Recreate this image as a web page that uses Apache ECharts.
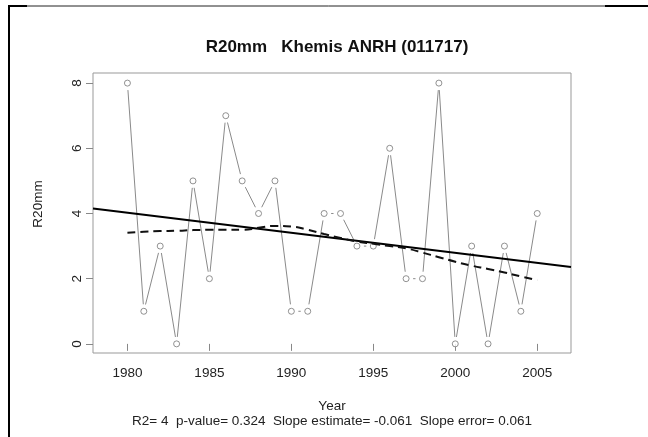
<!DOCTYPE html>
<html>
<head>
<meta charset="utf-8">
<script src="https://cdn.jsdelivr.net/npm/echarts@6/dist/echarts.min.js"></script>
<style>
html,body{margin:0;padding:0;background:#fff;}
#chart{width:648px;height:437px;}
</style>
</head>
<body>
<div id="chart"></div>
<script>
const years = [1980,1981,1982,1983,1984,1985,1986,1987,1988,1989,1990,1991,1992,1993,1994,1995,1996,1997,1998,1999,2000,2001,2002,2003,2004,2005];
const r20mm = [8,1,3,0,5,2,7,5,4,5,1,1,4,4,3,3,6,2,2,8,0,3,0,3,1,4];
const smoothValues = [3.41,3.44,3.46,3.47,3.49,3.5,3.5,3.5,3.56,3.62,3.6,3.5,3.37,3.25,3.14,3.07,3.0,2.93,2.8,2.66,2.52,2.4,2.3,2.19,2.07,1.95];
const trendX = [1977.9, 2007.06];
const trendY = [4.15, 2.36];
const xTicks = [1980,1985,1990,1995,2000,2005];
const yTicks = [0,2,4,6,8];
const titleText = 'R20mm   Khemis ANRH (011717)';
const xName = 'Year';
const yName = 'R20mm';
const statsText = 'R2= 4  p-value= 0.324  Slope estimate= -0.061  Slope error= 0.061';

const chart = echarts.init(document.getElementById('chart'), null, {renderer:'canvas'});
const FONT = 'Liberation Sans, Arial, sans-serif';
const segData = years.slice(0,-1).map((y,i)=>[years[i], r20mm[i], years[i+1], r20mm[i+1]]);
const GAP = 7;

chart.setOption({
  animation:false,
  backgroundColor:'#fff',
  title:{
    text:titleText, left:332, top:34, textAlign:'center',
    textStyle:{fontFamily:FONT, fontSize:17, fontWeight:'bold', color:'#111'}
  },
  grid:{left:93, top:73, right:77, bottom:84, show:true, borderColor:'#999', borderWidth:1, backgroundColor:'transparent'},
  xAxis:{
    type:'value', min:trendX[0], max:trendX[1],
    name:xName, nameLocation:'middle', nameGap:46,
    nameTextStyle:{fontFamily:FONT, fontSize:13.5, color:'#222'},
    axisLine:{show:false},
    splitLine:{show:false},
    axisTick:{show:true, inside:false, length:7, customValues:xTicks, lineStyle:{color:'#888'}},
    axisLabel:{customValues:xTicks, formatter:function(v){return String(Math.round(v));}, fontFamily:FONT, fontSize:13.5, color:'#222', margin:13}
  },
  yAxis:{
    type:'value', min:-0.28, max:8.31,
    axisLine:{show:false},
    splitLine:{show:false},
    axisTick:{show:true, inside:false, length:7, customValues:yTicks, lineStyle:{color:'#888'}},
    axisLabel:{customValues:yTicks, formatter:function(v){return String(Math.round(v));}, rotate:90, fontFamily:FONT, fontSize:13.5, color:'#222', margin:9}
  },
  graphic:[
    {type:'line', shape:{x1:9, y1:5, x2:9, y2:437}, style:{stroke:'#000', lineWidth:2}},
    {type:'line', shape:{x1:9, y1:6, x2:648, y2:6}, style:{stroke:'#222', lineWidth:1}},
    {type:'line', shape:{x1:9, y1:6, x2:27, y2:6}, style:{stroke:'#000', lineWidth:2}},
    {type:'line', shape:{x1:605, y1:6, x2:648, y2:6}, style:{stroke:'#000', lineWidth:2}},
    {type:'text', x:38, y:204, rotation:Math.PI/2, style:{text:yName, x:0, y:0, textAlign:'center', textVerticalAlign:'middle', font:'13.5px ' + FONT, fill:'#222'}},
    {type:'text', style:{text:statsText, x:332, y:421, textAlign:'center', textVerticalAlign:'middle', font:'13.5px ' + FONT, fill:'#222'}}
  ],
  series:[
    {
      type:'custom',
      data:segData,
      encode:{x:[0,2], y:[1,3]},
      renderItem:function(params, api){
        const p1 = api.coord([api.value(0), api.value(1)]);
        const p2 = api.coord([api.value(2), api.value(3)]);
        const dx = p2[0]-p1[0], dy = p2[1]-p1[1];
        const len = Math.sqrt(dx*dx+dy*dy);
        if (len <= 2*GAP) return null;
        const ux = dx/len, uy = dy/len;
        return {type:'line', shape:{x1:p1[0]+ux*GAP, y1:p1[1]+uy*GAP, x2:p2[0]-ux*GAP, y2:p2[1]-uy*GAP},
          style:{stroke:'#8a8a8a', lineWidth:1}};
      },
      z:2
    },
    {
      type:'scatter',
      data:years.map((y,i)=>[y, r20mm[i]]),
      symbol:'circle', symbolSize:6,
      itemStyle:{color:'#fff', borderColor:'#777', borderWidth:1},
      z:3
    },
    {
      type:'line',
      data:trendX.map((x,i)=>[x, trendY[i]]),
      showSymbol:false, symbol:'none',
      lineStyle:{color:'#000', width:2},
      z:4
    },
    {
      type:'line',
      data:years.map((y,i)=>[y, smoothValues[i]]),
      showSymbol:false, symbol:'none', smooth:true,
      lineStyle:{color:'#111', width:2, type:[8,5]},
      z:4
    }
  ]
});
</script>
</body>
</html>
